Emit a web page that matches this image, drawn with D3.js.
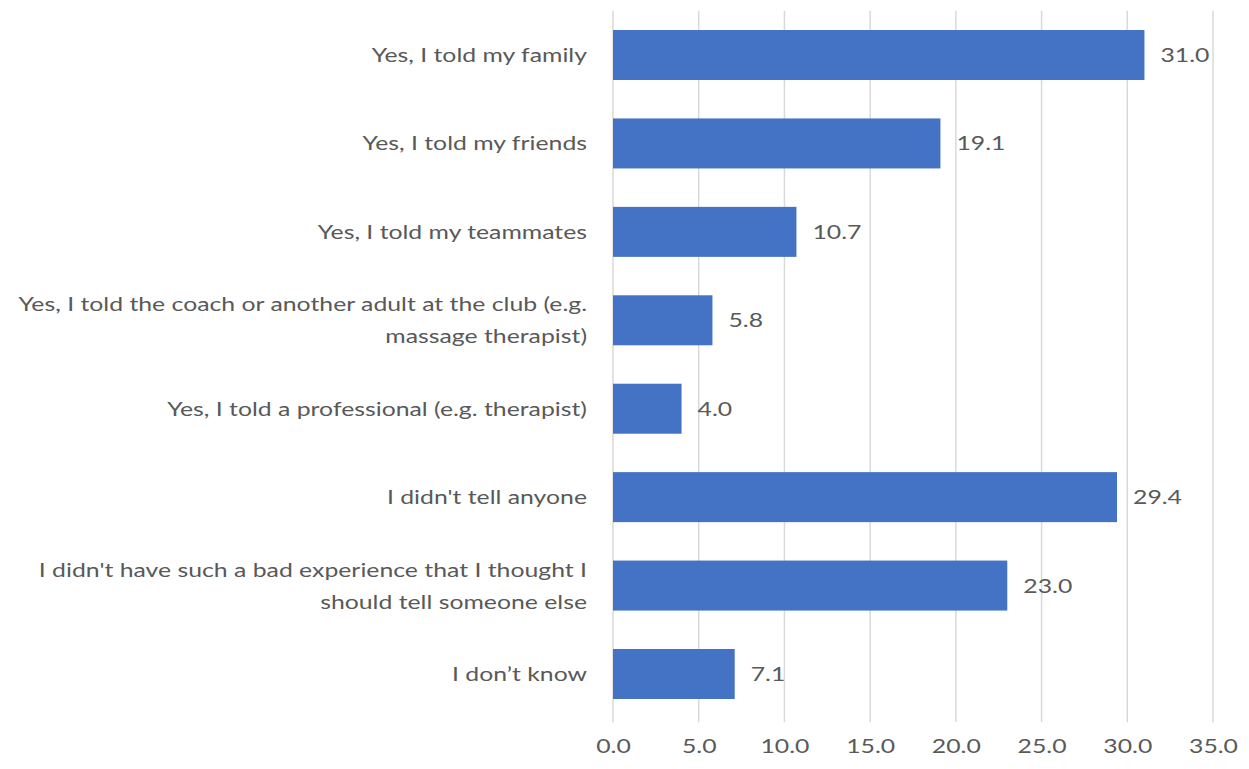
<!DOCTYPE html>
<html>
<head>
<meta charset="utf-8">
<script src="https://cdn.jsdelivr.net/npm/d3@7"></script>
<style>
  html, body { margin: 0; padding: 0; background: #fff; }
  svg { display: block; }
  text { font-family: Lato, "Open Sans", sans-serif; fill: #595959; }
</style>
</head>
<body>
<svg id="chart" width="1249" height="769"></svg>
<script>
// Responses: who did you tell about the experience (percent)
const categories = [
  ["Yes, I told my family"],
  ["Yes, I told my friends"],
  ["Yes, I told my teammates"],
  ["Yes, I told the coach or another adult at the club (e.g.", "massage therapist)"],
  ["Yes, I told a professional (e.g. therapist)"],
  ["I didn't tell anyone"],
  ["I didn't have such a bad experience that I thought I", "should tell someone else"],
  ["I don\u2019t know"]
];
const values = [31.0, 19.1, 10.7, 5.8, 4.0, 29.4, 23.0, 7.1];
const tickValues = [0, 5, 10, 15, 20, 25, 30, 35];

const svg = d3.select("#chart");
const plot = { left: 613, right: 1213, top: 10.8, bottom: 718.2 };
const fontSize = "20px";
const stretch = 1.24; // wide letterforms

const x = d3.scaleLinear().domain([0, 35]).range([plot.left, plot.right]);
const y = d3.scaleBand()
  .domain(d3.range(categories.length))
  .range([plot.top, plot.bottom])
  .paddingInner(0.4346)
  .paddingOuter(0.2173);

// vertical gridlines
svg.append("g")
  .selectAll("line")
  .data(tickValues)
  .join("line")
  .attr("x1", d => x(d)).attr("x2", d => x(d))
  .attr("y1", plot.top).attr("y2", plot.bottom + 4)
  .attr("stroke", "#d9d9d9")
  .attr("stroke-width", 1.5);

// x axis tick labels
const xAxis = d3.axisBottom(x).tickValues(tickValues).tickFormat(d3.format(".1f")).tickSize(0).tickPadding(0);
const gx = svg.append("g").attr("transform", `translate(0, ${plot.bottom})`).call(xAxis);
gx.select(".domain").remove();
gx.selectAll("text")
  .attr("dy", null)
  .attr("y", 0)
  .attr("transform", `translate(0, 35) scale(${stretch}, 1)`)
  .style("font-size", fontSize)
  .style("font-family", "Lato, 'Open Sans', sans-serif")
  .attr("fill", "#595959");

// bars
svg.append("g")
  .selectAll("rect")
  .data(values)
  .join("rect")
  .attr("x", x(0))
  .attr("y", (d, i) => y(i))
  .attr("width", d => x(d) - x(0))
  .attr("height", y.bandwidth())
  .attr("fill", "#4472c4");

// value labels
svg.append("g")
  .selectAll("text")
  .data(values)
  .join("text")
  .attr("transform", (d, i) => `translate(${x(d) + 16}, ${y(i) + y.bandwidth() / 2}) scale(${stretch}, 1)`)
  .attr("dy", "0.35em")
  .style("font-size", fontSize)
  .text(d => d3.format(".1f")(d));

// category labels
const lineGap = 32;
const catG = svg.append("g");
categories.forEach((lines, i) => {
  const cy = y(i) + y.bandwidth() / 2;
  const t = catG.append("text")
    .attr("text-anchor", "end")
    .attr("transform", `translate(587, ${cy}) scale(${stretch}, 1)`)
    .style("font-size", fontSize);
  lines.forEach((ln, j) => {
    t.append("tspan")
      .attr("x", 0)
      .attr("y", (j - (lines.length - 1) / 2) * lineGap)
      .attr("dy", "0.35em")
      .text(ln);
  });
});
</script>
</body>
</html>
